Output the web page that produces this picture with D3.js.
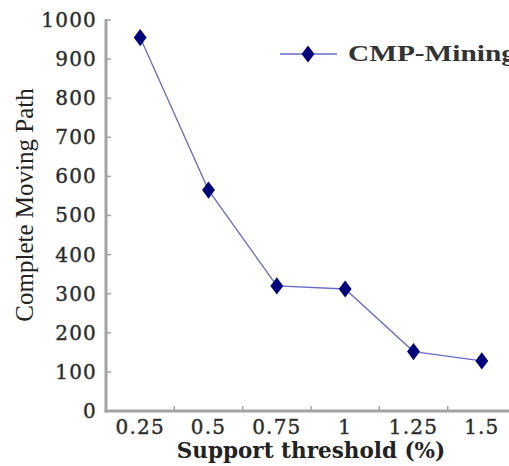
<!DOCTYPE html>
<html><head><meta charset="utf-8">
<script src="https://cdn.jsdelivr.net/npm/d3@7"></script>
<style>body{margin:0;background:#fff}</style>
</head><body>
<svg id="c" width="509" height="466"></svg>
<script>
const categories = ["0.25","0.5","0.75","1","1.25","1.5"];
const values = [955, 565, 320, 312, 152, 128];
const yTicks = [0,100,200,300,400,500,600,700,800,900,1000];
const seriesName = "CMP-Mining";
const xTitle = "Support threshold (%)";
const yTitle = "Complete Moving Path";

const svg = d3.select("#c");
const x = d3.scaleBand().domain(categories).range([106, 516]).padding(0);
const y = d3.scaleLinear().domain([0, 1000]).range([411, 20]);
const axisColor = "#a3a3a3";
const serif = "'DejaVu Serif', serif";

// y axis
const ya = svg.append("g").attr("transform","translate(106,0)")
  .call(d3.axisLeft(y).tickValues(yTicks).tickSize(0).tickPadding(9).tickFormat(d3.format("d")));
ya.select(".domain").remove();
ya.selectAll("text").attr("font-family", serif)
  .attr("font-size", 20).attr("letter-spacing", 1.2).attr("stroke","#333").attr("stroke-width",0.4)
  .attr("fill","#2a2a2a");
svg.append("g").selectAll("line").data(yTicks.filter(d=>d>0)).join("line")
  .attr("x1",106).attr("x2",111).attr("y1",d=>y(d)).attr("y2",d=>y(d))
  .attr("stroke",axisColor).attr("stroke-width",1.5);
svg.append("line").attr("x1",106).attr("x2",106).attr("y1",y(1000)-1).attr("y2",y(0)+1.5)
  .attr("stroke",axisColor).attr("stroke-width",3);

// x axis
const xa = svg.append("g").attr("transform",`translate(0,${y(0)})`)
  .call(d3.axisBottom(x).tickSize(0).tickPadding(9));
xa.select(".domain").remove();
xa.selectAll("text").attr("font-family", serif)
  .attr("font-size", 20).attr("letter-spacing", 1.2).attr("stroke","#333").attr("stroke-width",0.4)
  .attr("fill","#2a2a2a");
svg.append("line").attr("x1",104.5).attr("x2",516).attr("y1",y(0)).attr("y2",y(0))
  .attr("stroke",axisColor).attr("stroke-width",3);
svg.append("g").selectAll("line").data(categories.slice(1)).join("line")
  .attr("x1",d=>x(d)).attr("x2",d=>x(d)).attr("y1",y(0)).attr("y2",y(0)-5)
  .attr("stroke",axisColor).attr("stroke-width",1.5);

// titles
svg.append("text").attr("x", (106+516)/2).attr("y", 458).attr("text-anchor","middle")
  .attr("font-family", serif).attr("font-weight","bold").attr("font-size",21.5)
  .attr("fill","#222").text(xTitle);
svg.append("text").attr("transform","translate(33,205) rotate(-90)").attr("text-anchor","middle")
  .attr("font-family","'Liberation Serif', serif").attr("font-size",25)
  .attr("fill","#222").text(yTitle);

// line & markers
const cx = d => x(d) + x.bandwidth()/2;
const diamond = d3.symbol().type(d3.symbolDiamond).size(85);
svg.append("path").datum(categories.map((c,i)=>[cx(c), y(values[i])]))
  .attr("d", d3.line()).attr("fill","none").attr("stroke","#6a6ac8").attr("stroke-width",1.3);
svg.append("g").selectAll("path").data(categories).join("path")
  .attr("d", diamond).attr("transform",(c,i)=>`translate(${cx(c)},${y(values[i])}) scale(1.3,1)`)
  .attr("fill","#00007a");

// legend
svg.append("line").attr("x1",280).attr("x2",337).attr("y1",54).attr("y2",54)
  .attr("stroke","#6a6ac8").attr("stroke-width",1.3);
svg.append("path").attr("d",diamond).attr("transform","translate(308,54) scale(1.3,1)").attr("fill","#00007a");
svg.append("text").attr("x",348).attr("y",61).attr("font-family","'Liberation Serif', serif")
  .attr("font-weight","bold").attr("font-size",22.5).attr("fill","#333")
  .attr("textLength",168).attr("lengthAdjust","spacingAndGlyphs").text(seriesName);
</script>
</body></html>
